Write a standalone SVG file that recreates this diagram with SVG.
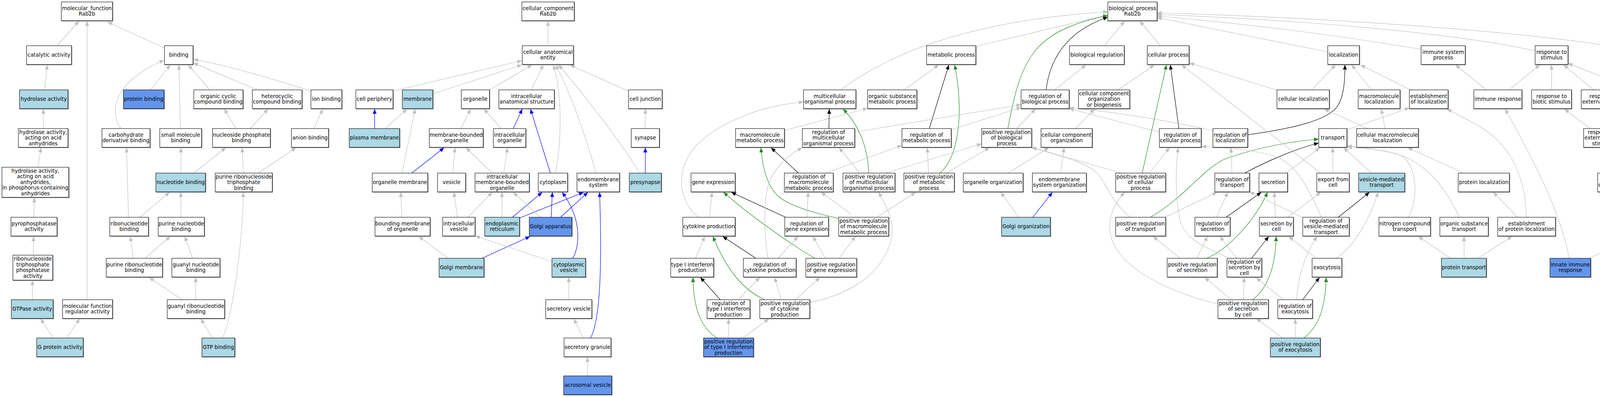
<svg xmlns="http://www.w3.org/2000/svg" width="4331" height="1016" viewBox="0 0 4331 1016">
<style>
text{font-family:"DejaVu Sans","Liberation Sans",sans-serif;font-size:13.3px;text-anchor:middle;fill:#000}
rect.w,rect.l,rect.c{stroke:#000;stroke-width:1.1;filter:drop-shadow(1.2px 1.2px 0 #666)}
rect.w{fill:#fff}
rect.l{fill:#add8e6}
rect.c{fill:#6495ed}
path{fill:none;stroke-width:1.2}
.g{stroke:#c0c0c0;marker-end:url(#ag)}
.u{stroke:#0000ff;marker-end:url(#au)}
.k{stroke:#000;marker-end:url(#ak)}
.r{stroke:#228b22;marker-end:url(#ar)}
</style>
<defs>
<marker id="ag" viewBox="0 0 12 10" refX="12" refY="5" markerWidth="12" markerHeight="10" markerUnits="userSpaceOnUse" orient="auto"><path d="M0,0L12,5L0,10z" style="fill:#c0c0c0;stroke:none"/></marker>
<marker id="au" viewBox="0 0 12 10" refX="12" refY="5" markerWidth="12" markerHeight="10" markerUnits="userSpaceOnUse" orient="auto"><path d="M0,0L12,5L0,10z" style="fill:#0000ff;stroke:none"/></marker>
<marker id="ak" viewBox="0 0 12 10" refX="12" refY="5" markerWidth="12" markerHeight="10" markerUnits="userSpaceOnUse" orient="auto"><path d="M0,0L12,5L0,10z" style="fill:#000;stroke:none"/></marker>
<marker id="ar" viewBox="0 0 12 10" refX="12" refY="5" markerWidth="12" markerHeight="10" markerUnits="userSpaceOnUse" orient="auto"><path d="M0,0L12,5L0,10z" style="fill:#228b22;stroke:none"/></marker>
</defs>
<rect x="0" y="0" width="4331" height="1016" fill="#fff"/>
<g id="edges">
<path class="g" d="M146,117L202,54"/>
<path class="g" d="M223,767L223,54"/>
<path class="g" d="M421,123L275,56"/>
<path class="g" d="M114,230L121,166"/>
<path class="g" d="M111,329L111,279"/>
<path class="g" d="M97,428L105,378"/>
<path class="g" d="M87,556L88,506"/>
<path class="g" d="M85,653L86,605"/>
<path class="g" d="M83,767L83,718"/>
<path class="g" d="M136,865L104,816"/>
<path class="g" d="M171,865L204,816"/>
<path class="g" d="M386,230L436,166"/>
<path class="g" d="M310,329C285,300 275,215 420,154"/>
<path class="g" d="M462,329L458,166"/>
<path class="g" d="M537,230L482,166"/>
<path class="g" d="M658,230L495,161"/>
<path class="g" d="M796,233Q600,170 495,152"/>
<path class="g" d="M463,443L463,378"/>
<path class="g" d="M496,443L578,378"/>
<path class="g" d="M604,329L574,279"/>
<path class="g" d="M641,329L686,279"/>
<path class="g" d="M804,329L826,279"/>
<path class="g" d="M623,443L620,378"/>
<path class="g" d="M661,443L758,378"/>
<path class="g" d="M329,556L324,378"/>
<path class="g" d="M358,556L434,492"/>
<path class="g" d="M463,556L463,492"/>
<path class="g" d="M341,661L334,605"/>
<path class="g" d="M371,661L436,605"/>
<path class="g" d="M493,661L473,605"/>
<path class="g" d="M466,767L382,710"/>
<path class="g" d="M501,767L501,710"/>
<path class="g" d="M544,865L514,816"/>
<path class="g" d="M569,865C590,830 620,650 623,492"/>
<path class="g" d="M1403,117L1403,54"/>
<path class="g" d="M1006,233L1336,155"/>
<path class="g" d="M1108,240L1336,166"/>
<path class="g" d="M1253,230L1362,166"/>
<path class="g" d="M1360,230L1391,166"/>
<path class="g" d="M1421,443C1436,390 1442,240 1416,166"/>
<path class="g" d="M1526,443Q1480,280 1423,166"/>
<path class="g" d="M1637,441Q1560,320 1430,166"/>
<path class="g" d="M1608,233L1459,166"/>
<path class="u" d="M959,329L959,279"/>
<path class="g" d="M986,329L1042,279"/>
<path class="g" d="M1029,443L1063,279"/>
<path class="u" d="M1054,443L1137,378"/>
<path class="g" d="M1029,556L1026,492"/>
<path class="g" d="M1147,661L1072,605"/>
<path class="u" d="M1234,661L1357,605"/>
<path class="g" d="M1180,329L1205,279"/>
<path class="g" d="M1283,329L1239,279"/>
<path class="u" d="M1314,329L1337,279"/>
<path class="u" d="M1409,443L1358,279"/>
<path class="g" d="M1159,443L1165,378"/>
<path class="g" d="M1260,443L1193,378"/>
<path class="g" d="M1290,443L1299,378"/>
<path class="g" d="M1171,556L1162,492"/>
<path class="g" d="M1198,556L1260,492"/>
<path class="g" d="M1285,556L1285,492"/>
<path class="u" d="M1312,556L1388,492"/>
<path class="u" d="M1330,558L1494,492"/>
<path class="g" d="M1383,556L1314,492"/>
<path class="u" d="M1411,556L1414,492"/>
<path class="u" d="M1435,556L1505,492"/>
<path class="g" d="M1412,669L1217,604"/>
<path class="u" d="M1466,661C1485,630 1490,560 1439,492"/>
<path class="g" d="M1456,767L1456,710"/>
<path class="g" d="M1493,865L1469,816"/>
<path class="u" d="M1512,865C1535,820 1542,700 1535,492"/>
<path class="g" d="M1504,962L1504,914"/>
<path class="u" d="M1652,443L1652,378"/>
<path class="g" d="M1652,329L1652,279"/>
<path class="g" d="M2152,230C2260,150 2450,55 2836,30"/>
<path class="g" d="M2497,119Q2700,70 2836,38"/>
<path class="r" d="M2580,329C2595,250 2610,180 2650,130S2760,55 2836,40"/>
<path class="k" d="M2678,230C2688,150 2730,80 2836,44"/>
<path class="g" d="M2827,117L2879,54"/>
<path class="g" d="M2971,117L2918,54"/>
<path class="g" d="M3399,133L2962,45"/>
<path class="g" d="M3638,126Q3300,70 2962,41"/>
<path class="g" d="M3930,130C3700,80 3300,50 2962,37"/>
<path class="g" d="M4154,123C3900,80 3400,45 2962,33"/>
<path class="g" d="M2315,230L2403,166"/>
<path class="k" d="M2379,329L2429,166"/>
<path class="r" d="M2405,443C2450,410 2470,300 2444,166"/>
<path class="g" d="M2377,443L2374,378"/>
<path class="g" d="M2422,443L2533,378"/>
<path class="g" d="M2435,332L2614,275"/>
<path class="g" d="M2188,338L2614,268"/>
<path class="g" d="M2602,329L2651,279"/>
<path class="g" d="M2700,230L2780,166"/>
<path class="g" d="M2008,334L2221,277"/>
<path class="g" d="M1788,556C1730,510 1730,420 1790,365S1950,270 2057,261"/>
<path class="k" d="M2122,329L2123,279"/>
<path class="r" d="M2224,443C2222,380 2200,320 2158,279"/>
<path class="g" d="M2201,443L2148,378"/>
<path class="g" d="M2267,443L2513,368"/>
<path class="k" d="M2044,443L1974,378"/>
<path class="g" d="M2113,443L2309,372"/>
<path class="r" d="M2147,559C2060,540 2010,520 1990,500C1965,475 1952,430 1948,378"/>
<path class="g" d="M2179,548L2102,492"/>
<path class="g" d="M2248,554L2344,492"/>
<path class="k" d="M2011,556L1872,492"/>
<path class="g" d="M2066,556L2069,492"/>
<path class="r" d="M2086,661C2040,635 1930,560 1852,492"/>
<path class="g" d="M2113,661L2081,605"/>
<path class="g" d="M2148,661L2190,605"/>
<path class="g" d="M1816,556L1823,492"/>
<path class="g" d="M1781,661L1804,605"/>
<path class="k" d="M1935,661L1850,605"/>
<path class="g" d="M1966,661C1956,600 1955,520 1965,480C1975,440 2010,400 2054,378"/>
<path class="g" d="M1992,661L2043,605"/>
<path class="k" d="M1844,767L1793,710"/>
<path class="g" d="M1890,767L1945,710"/>
<path class="r" d="M1957,767C1900,740 1860,690 1825,605"/>
<path class="g" d="M2000,767L1983,710"/>
<path class="g" d="M2036,767L2099,710"/>
<path class="g" d="M2073,774C2150,760 2230,720 2265,655C2295,600 2290,560 2249,492"/>
<path class="r" d="M1836,865C1795,840 1775,790 1774,710"/>
<path class="g" d="M1865,865L1865,816"/>
<path class="g" d="M1902,865L1968,816"/>
<path class="g" d="M2581,443L2685,378"/>
<path class="g" d="M2754,329L2802,279"/>
<path class="g" d="M2715,443L2724,378"/>
<path class="g" d="M2608,556L2562,492"/>
<path class="u" d="M2644,556L2694,492"/>
<path class="g" d="M2862,230L2955,166"/>
<path class="k" d="M3018,329L2996,166"/>
<path class="g" d="M2967,338L2737,278"/>
<path class="g" d="M3105,334Q2900,290 2737,276"/>
<path class="k" d="M3194,345C3300,330 3400,310 3425,270C3440,245 3443,210 3443,166"/>
<path class="r" d="M2924,443L2986,166"/>
<path class="g" d="M2942,443L2994,378"/>
<path class="g" d="M2871,443L2641,377"/>
<path class="g" d="M2893,556C2850,520 2835,480 2815,450C2795,420 2720,400 2641,378"/>
<path class="g" d="M2982,556L3116,492"/>
<path class="r" d="M2945,556C3040,500 3080,430 3140,405C3220,378 3300,362 3376,356"/>
<path class="g" d="M3154,443L3151,378"/>
<path class="k" d="M3186,443C3220,425 3300,385 3376,366"/>
<path class="g" d="M3114,556L3143,492"/>
<path class="k" d="M3139,556L3229,492"/>
<path class="r" d="M3089,661C3140,640 3210,570 3245,492"/>
<path class="g" d="M3064,661L3091,605"/>
<path class="g" d="M3021,661L2952,605"/>
<path class="g" d="M3166,661L3123,605"/>
<path class="k" d="M3204,661L3248,605"/>
<path class="g" d="M3141,658C3080,630 3030,610 3020,560C3008,500 3010,430 3016,378"/>
<path class="g" d="M3152,767L3084,710"/>
<path class="g" d="M3183,767L3185,710"/>
<path class="r" d="M3207,767C3235,745 3265,700 3267,605"/>
<path class="g" d="M3118,778C3000,750 2900,700 2860,640C2830,595 2835,540 2879,492"/>
<path class="g" d="M3283,865L3216,815"/>
<path class="g" d="M3286,767L3216,711"/>
<path class="g" d="M3292,443L3379,378"/>
<path class="g" d="M3269,231L3045,161"/>
<path class="g" d="M3381,443L3025,166"/>
<path class="g" d="M3383,556C3350,480 3320,425 3270,402C3220,385 3150,378 3076,375"/>
<path class="g" d="M3333,556L3199,491"/>
<path class="g" d="M3265,556L3262,492"/>
<path class="g" d="M3297,556L3381,492"/>
<path class="g" d="M3369,661L3299,605"/>
<path class="g" d="M3420,661C3455,640 3500,580 3528,492"/>
<path class="k" d="M3426,556L3506,492"/>
<path class="k" d="M3335,767L3378,710"/>
<path class="g" d="M3319,767C3322,715 3340,650 3372,605"/>
<path class="g" d="M3316,865L3316,816"/>
<path class="r" d="M3338,865C3370,840 3393,800 3395,710"/>
<path class="g" d="M3449,332L3608,276"/>
<path class="g" d="M3511,443L3440,378"/>
<path class="g" d="M3412,443L3412,378"/>
<path class="g" d="M3606,556C3630,510 3630,430 3590,400C3560,385 3500,380 3449,376"/>
<path class="g" d="M3736,556C3700,480 3650,410 3560,390C3520,382 3490,378 3449,373"/>
<path class="g" d="M3546,329L3536,279"/>
<path class="g" d="M3501,329L3390,279"/>
<path class="g" d="M3511,230L3460,166"/>
<path class="g" d="M3358,230L3419,166"/>
<path class="g" d="M3611,230L3483,166"/>
<path class="g" d="M3747,443L3604,378"/>
<path class="g" d="M3713,661L3631,605"/>
<path class="g" d="M3748,661L3748,605"/>
<path class="g" d="M3783,661L3871,605"/>
<path class="g" d="M3885,556L3823,492"/>
<path class="g" d="M3908,556C3905,470 3880,380 3790,325C3760,308 3730,292 3704,279"/>
<path class="g" d="M3805,230L3726,166"/>
<path class="g" d="M3863,230L3942,166"/>
<path class="g" d="M3972,230L3972,166"/>
<path class="g" d="M4079,230L4003,166"/>
<path class="g" d="M4194,233L4014,162"/>
<path class="g" d="M4071,329L4005,279"/>
<path class="g" d="M4105,329L4107,279"/>
<path class="g" d="M4238,329L4237,279"/>
<path class="g" d="M4135,443L4114,378"/>
<path class="g" d="M4195,454C4290,430 4328,380 4325,310C4322,250 4290,205 4260,182"/>
<path class="g" d="M4217,556L4164,492"/>
<path class="g" d="M4238,556L4238,378"/>
<path class="g" d="M4017,661C4000,570 3960,470 3853,279"/>
<path class="g" d="M4069,661L4187,605"/>
<path class="g" d="M4139,661L4142,492"/>
<path class="g" d="M4258,661L4246,605"/>
<path class="g" d="M4187,767L4157,710"/>
<path class="g" d="M4216,767L4250,710"/>
</g>
<g id="n1"><rect class="w" x="157" y="5" width="131" height="48"/><text x="222.5" y="25.75"><tspan x="222.5">molecular_function</tspan><tspan x="222.5" dy="14.5">Rab2b</tspan></text></g>
<g id="n2"><rect class="w" x="68" y="117" width="115" height="48"/><text x="125.5" y="145">catalytic activity</text></g>
<g id="n3"><rect class="w" x="421" y="117" width="73" height="48"/><text x="457.5" y="145">binding</text></g>
<g id="n4"><rect class="l" x="50" y="230" width="124" height="48"/><text x="112" y="258">hydrolase activity</text></g>
<g id="n5"><rect class="c" x="316" y="230" width="104" height="48"/><text x="368" y="258">protein binding</text></g>
<g id="n6"><rect class="w" x="496" y="230" width="126" height="48"/><text x="559" y="250.75"><tspan x="559">organic cyclic</tspan><tspan x="559" dy="14.5">compound binding</tspan></text></g>
<g id="n7"><rect class="w" x="646" y="230" width="127" height="48"/><text x="709.5" y="250.75"><tspan x="709.5">heterocyclic</tspan><tspan x="709.5" dy="14.5">compound binding</tspan></text></g>
<g id="n8"><rect class="w" x="796" y="230" width="79" height="48"/><text x="835.5" y="258">ion binding</text></g>
<g id="n9"><rect class="w" x="47" y="329" width="127" height="48"/><text x="110.5" y="342.5"><tspan x="110.5">hydrolase activity,</tspan><tspan x="110.5" dy="14.5">acting on acid</tspan><tspan x="110.5" dy="14.5">anhydrides</tspan></text></g>
<g id="n10"><rect class="w" x="261" y="329" width="123" height="48"/><text x="322.5" y="349.75"><tspan x="322.5">carbohydrate</tspan><tspan x="322.5" dy="14.5">derivative binding</tspan></text></g>
<g id="n11"><rect class="w" x="409" y="329" width="107" height="48"/><text x="462.5" y="349.75"><tspan x="462.5">small molecule</tspan><tspan x="462.5" dy="14.5">binding</tspan></text></g>
<g id="n12"><rect class="w" x="544" y="329" width="148" height="48"/><text x="618" y="349.75"><tspan x="618">nucleoside phosphate</tspan><tspan x="618" dy="14.5">binding</tspan></text></g>
<g id="n13"><rect class="w" x="746" y="329" width="95" height="48"/><text x="793.5" y="357">anion binding</text></g>
<g id="n14"><rect class="w" x="5" y="428" width="171" height="77"/><text x="90.5" y="441.5"><tspan x="90.5">hydrolase activity,</tspan><tspan x="90.5" dy="14.5">acting on acid</tspan><tspan x="90.5" dy="14.5">anhydrides,</tspan><tspan x="90.5" dy="14.5">in phosphorus-containing</tspan><tspan x="90.5" dy="14.5">anhydrides</tspan></text></g>
<g id="n15"><rect class="l" x="399" y="443" width="127" height="48"/><text x="462.5" y="471">nucleotide binding</text></g>
<g id="n16"><rect class="w" x="551" y="443" width="146" height="48"/><text x="624" y="456.5"><tspan x="624">purine ribonucleoside</tspan><tspan x="624" dy="14.5">triphosphate</tspan><tspan x="624" dy="14.5">binding</tspan></text></g>
<g id="n17"><rect class="w" x="28" y="556" width="118" height="48"/><text x="87" y="576.75"><tspan x="87">pyrophosphatase</tspan><tspan x="87" dy="14.5">activity</tspan></text></g>
<g id="n18"><rect class="w" x="281" y="556" width="99" height="48"/><text x="330.5" y="576.75"><tspan x="330.5">ribonucleotide</tspan><tspan x="330.5" dy="14.5">binding</tspan></text></g>
<g id="n19"><rect class="w" x="405" y="556" width="118" height="48"/><text x="464" y="576.75"><tspan x="464">purine nucleotide</tspan><tspan x="464" dy="14.5">binding</tspan></text></g>
<g id="n20"><rect class="w" x="33" y="653" width="102" height="64"/><text x="84" y="667.25"><tspan x="84">ribonucleoside</tspan><tspan x="84" dy="14.5">triphosphate</tspan><tspan x="84" dy="14.5">phosphatase</tspan><tspan x="84" dy="14.5">activity</tspan></text></g>
<g id="n21"><rect class="w" x="272" y="661" width="144" height="48"/><text x="344" y="681.75"><tspan x="344">purine ribonucleotide</tspan><tspan x="344" dy="14.5">binding</tspan></text></g>
<g id="n22"><rect class="w" x="440" y="661" width="123" height="48"/><text x="501.5" y="681.75"><tspan x="501.5">guanyl nucleotide</tspan><tspan x="501.5" dy="14.5">binding</tspan></text></g>
<g id="n23"><rect class="l" x="29" y="767" width="107" height="48"/><text x="82.5" y="795">GTPase activity</text></g>
<g id="n24"><rect class="w" x="160" y="767" width="128" height="48"/><text x="224" y="787.75"><tspan x="224">molecular function</tspan><tspan x="224" dy="14.5">regulator activity</tspan></text></g>
<g id="n25"><rect class="w" x="428" y="767" width="147" height="48"/><text x="501.5" y="787.75"><tspan x="501.5">guanyl ribonucleotide</tspan><tspan x="501.5" dy="14.5">binding</tspan></text></g>
<g id="n26"><rect class="l" x="94" y="865" width="119" height="48"/><text x="153.5" y="893">G protein activity</text></g>
<g id="n27"><rect class="l" x="517" y="865" width="84" height="48"/><text x="559" y="893">GTP binding</text></g>
<g id="c1"><rect class="w" x="1336" y="5" width="134" height="48"/><text x="1403" y="25.75"><tspan x="1403">cellular_component</tspan><tspan x="1403" dy="14.5">Rab2b</tspan></text></g>
<g id="c2"><rect class="w" x="1337" y="117" width="131" height="48"/><text x="1402.5" y="137.75"><tspan x="1402.5">cellular anatomical</tspan><tspan x="1402.5" dy="14.5">entity</tspan></text></g>
<g id="c3"><rect class="w" x="911" y="230" width="95" height="48"/><text x="958.5" y="258">cell periphery</text></g>
<g id="c4"><rect class="l" x="1030" y="230" width="78" height="48"/><text x="1069" y="258">membrane</text></g>
<g id="c5"><rect class="w" x="1181" y="230" width="72" height="48"/><text x="1217" y="258">organelle</text></g>
<g id="c6"><rect class="w" x="1277" y="230" width="142" height="48"/><text x="1348" y="250.75"><tspan x="1348">intracellular</tspan><tspan x="1348" dy="14.5">anatomical structure</tspan></text></g>
<g id="c7"><rect class="w" x="1609" y="230" width="86" height="48"/><text x="1652" y="258">cell junction</text></g>
<g id="c8"><rect class="l" x="894" y="329" width="129" height="48"/><text x="958.5" y="357">plasma membrane</text></g>
<g id="c9"><rect class="w" x="1099" y="329" width="138" height="48"/><text x="1168" y="349.75"><tspan x="1168">membrane-bounded</tspan><tspan x="1168" dy="14.5">organelle</tspan></text></g>
<g id="c10"><rect class="w" x="1263" y="329" width="83" height="48"/><text x="1304.5" y="349.75"><tspan x="1304.5">intracellular</tspan><tspan x="1304.5" dy="14.5">organelle</tspan></text></g>
<g id="c11"><rect class="w" x="1616" y="329" width="72" height="48"/><text x="1652" y="357">synapse</text></g>
<g id="c12"><rect class="w" x="953" y="443" width="142" height="48"/><text x="1024" y="471">organelle membrane</text></g>
<g id="c13"><rect class="w" x="1120" y="443" width="72" height="48"/><text x="1156" y="471">vesicle</text></g>
<g id="c14"><rect class="w" x="1216" y="443" width="139" height="48"/><text x="1285.5" y="456.5"><tspan x="1285.5">intracellular</tspan><tspan x="1285.5" dy="14.5">membrane-bounded</tspan><tspan x="1285.5" dy="14.5">organelle</tspan></text></g>
<g id="c15"><rect class="w" x="1378" y="443" width="75" height="48"/><text x="1415.5" y="471">cytoplasm</text></g>
<g id="c16"><rect class="w" x="1477" y="443" width="109" height="48"/><text x="1531.5" y="463.75"><tspan x="1531.5">endomembrane</tspan><tspan x="1531.5" dy="14.5">system</tspan></text></g>
<g id="c17"><rect class="l" x="1611" y="443" width="82" height="48"/><text x="1652" y="471">presynapse</text></g>
<g id="c18"><rect class="w" x="960" y="556" width="141" height="48"/><text x="1030.5" y="576.75"><tspan x="1030.5">bounding membrane</tspan><tspan x="1030.5" dy="14.5">of organelle</tspan></text></g>
<g id="c19"><rect class="w" x="1133" y="556" width="83" height="48"/><text x="1174.5" y="576.75"><tspan x="1174.5">intracellular</tspan><tspan x="1174.5" dy="14.5">vesicle</tspan></text></g>
<g id="c20"><rect class="l" x="1241" y="556" width="89" height="48"/><text x="1285.5" y="576.75"><tspan x="1285.5">endoplasmic</tspan><tspan x="1285.5" dy="14.5">reticulum</tspan></text></g>
<g id="c21"><rect class="c" x="1355" y="556" width="109" height="48"/><text x="1409.5" y="584">Golgi apparatus</text></g>
<g id="c22"><rect class="l" x="1124" y="661" width="115" height="48"/><text x="1181.5" y="689">Golgi membrane</text></g>
<g id="c23"><rect class="l" x="1413" y="661" width="86" height="48"/><text x="1456" y="681.75"><tspan x="1456">cytoplasmic</tspan><tspan x="1456" dy="14.5">vesicle</tspan></text></g>
<g id="c24"><rect class="w" x="1397" y="767" width="118" height="48"/><text x="1456" y="795">secretory vesicle</text></g>
<g id="c25"><rect class="w" x="1444" y="865" width="120" height="48"/><text x="1504" y="893">secretory granule</text></g>
<g id="c26"><rect class="c" x="1443" y="962" width="123" height="48"/><text x="1504.5" y="990">acrosomal vesicle</text></g>
<g id="b1"><rect class="w" x="2836" y="5" width="126" height="48"/><text x="2899" y="25.75"><tspan x="2899">biological_process</tspan><tspan x="2899" dy="14.5">Rab2b</tspan></text></g>
<g id="b2"><rect class="w" x="2372" y="117" width="126" height="48"/><text x="2435" y="145">metabolic process</text></g>
<g id="b3"><rect class="w" x="2738" y="117" width="140" height="48"/><text x="2808" y="145">biological regulation</text></g>
<g id="b4"><rect class="w" x="2937" y="117" width="107" height="48"/><text x="2990.5" y="145">cellular process</text></g>
<g id="b5"><rect class="w" x="3399" y="117" width="81" height="48"/><text x="3439.5" y="145">localization</text></g>
<g id="b6"><rect class="w" x="3638" y="117" width="113" height="48"/><text x="3694.5" y="137.75"><tspan x="3694.5">immune system</tspan><tspan x="3694.5" dy="14.5">process</tspan></text></g>
<g id="b7"><rect class="w" x="3930" y="117" width="84" height="48"/><text x="3972" y="137.75"><tspan x="3972">response to</tspan><tspan x="3972" dy="14.5">stimulus</tspan></text></g>
<g id="b8"><rect class="w" x="4154" y="102" width="135" height="79"/><text x="4221.5" y="116.5"><tspan x="4221.5">biological process</tspan><tspan x="4221.5" dy="14.5">involved in</tspan><tspan x="4221.5" dy="14.5">interspecies</tspan><tspan x="4221.5" dy="14.5">interaction</tspan><tspan x="4221.5" dy="14.5">between organisms</tspan></text></g>
<g id="b9"><rect class="w" x="2057" y="230" width="134" height="48"/><text x="2124" y="250.75"><tspan x="2124">multicellular</tspan><tspan x="2124" dy="14.5">organismal process</tspan></text></g>
<g id="b10"><rect class="w" x="2221" y="230" width="126" height="48"/><text x="2284" y="250.75"><tspan x="2284">organic substance</tspan><tspan x="2284" dy="14.5">metabolic process</tspan></text></g>
<g id="b11"><rect class="w" x="2614" y="230" width="123" height="48"/><text x="2675.5" y="250.75"><tspan x="2675.5">regulation of</tspan><tspan x="2675.5" dy="14.5">biological process</tspan></text></g>
<g id="b12"><rect class="w" x="2761" y="230" width="131" height="48"/><text x="2826.5" y="243.5"><tspan x="2826.5">cellular component</tspan><tspan x="2826.5" dy="14.5">organization</tspan><tspan x="2826.5" dy="14.5">or biogenesis</tspan></text></g>
<g id="b13"><rect class="w" x="3269" y="230" width="134" height="48"/><text x="3336" y="258">cellular localization</text></g>
<g id="b14"><rect class="w" x="3477" y="230" width="107" height="48"/><text x="3530.5" y="250.75"><tspan x="3530.5">macromolecule</tspan><tspan x="3530.5" dy="14.5">localization</tspan></text></g>
<g id="b15"><rect class="w" x="3608" y="230" width="99" height="48"/><text x="3657.5" y="250.75"><tspan x="3657.5">establishment</tspan><tspan x="3657.5" dy="14.5">of localization</tspan></text></g>
<g id="b16"><rect class="w" x="3773" y="230" width="123" height="48"/><text x="3834.5" y="258">immune response</text></g>
<g id="b17"><rect class="w" x="3921" y="230" width="102" height="48"/><text x="3972" y="250.75"><tspan x="3972">response to</tspan><tspan x="3972" dy="14.5">biotic stimulus</tspan></text></g>
<g id="b18"><rect class="w" x="4048" y="230" width="120" height="48"/><text x="4108" y="250.75"><tspan x="4108">response to</tspan><tspan x="4108" dy="14.5">external stimulus</tspan></text></g>
<g id="b19"><rect class="w" x="4194" y="230" width="83" height="48"/><text x="4235.5" y="250.75"><tspan x="4235.5">response to</tspan><tspan x="4235.5" dy="14.5">stress</tspan></text></g>
<g id="b20"><rect class="w" x="1883" y="329" width="125" height="48"/><text x="1945.5" y="349.75"><tspan x="1945.5">macromolecule</tspan><tspan x="1945.5" dy="14.5">metabolic process</tspan></text></g>
<g id="b21"><rect class="w" x="2054" y="329" width="134" height="48"/><text x="2121" y="342.5"><tspan x="2121">regulation of</tspan><tspan x="2121" dy="14.5">multicellular</tspan><tspan x="2121" dy="14.5">organismal process</tspan></text></g>
<g id="b22"><rect class="w" x="2309" y="329" width="126" height="48"/><text x="2372" y="349.75"><tspan x="2372">regulation of</tspan><tspan x="2372" dy="14.5">metabolic process</tspan></text></g>
<g id="b23"><rect class="w" x="2513" y="329" width="128" height="48"/><text x="2577" y="342.5"><tspan x="2577">positive regulation</tspan><tspan x="2577" dy="14.5">of biological</tspan><tspan x="2577" dy="14.5">process</tspan></text></g>
<g id="b24"><rect class="w" x="2665" y="329" width="131" height="48"/><text x="2730.5" y="349.75"><tspan x="2730.5">cellular component</tspan><tspan x="2730.5" dy="14.5">organization</tspan></text></g>
<g id="b25"><rect class="w" x="2968" y="329" width="107" height="48"/><text x="3021.5" y="349.75"><tspan x="3021.5">regulation of</tspan><tspan x="3021.5" dy="14.5">cellular process</tspan></text></g>
<g id="b26"><rect class="w" x="3105" y="329" width="89" height="48"/><text x="3149.5" y="349.75"><tspan x="3149.5">regulation of</tspan><tspan x="3149.5" dy="14.5">localization</tspan></text></g>
<g id="b27"><rect class="w" x="3376" y="329" width="72" height="48"/><text x="3412" y="357">transport</text></g>
<g id="b28"><rect class="w" x="3473" y="329" width="158" height="48"/><text x="3552" y="349.75"><tspan x="3552">cellular macromolecule</tspan><tspan x="3552" dy="14.5">localization</tspan></text></g>
<g id="b29"><rect class="w" x="4054" y="329" width="100" height="48"/><text x="4104" y="342.5"><tspan x="4104">response to</tspan><tspan x="4104" dy="14.5">external biotic</tspan><tspan x="4104" dy="14.5">stimulus</tspan></text></g>
<g id="b30"><rect class="w" x="4178" y="329" width="121" height="48"/><text x="4238.5" y="357">defense response</text></g>
<g id="b31"><rect class="w" x="1769" y="443" width="113" height="48"/><text x="1825.5" y="471">gene expression</text></g>
<g id="b32"><rect class="w" x="2008" y="443" width="125" height="48"/><text x="2070.5" y="456.5"><tspan x="2070.5">regulation of</tspan><tspan x="2070.5" dy="14.5">macromolecule</tspan><tspan x="2070.5" dy="14.5">metabolic process</tspan></text></g>
<g id="b33"><rect class="w" x="2158" y="443" width="133" height="48"/><text x="2224.5" y="456.5"><tspan x="2224.5">positive regulation</tspan><tspan x="2224.5" dy="14.5">of multicellular</tspan><tspan x="2224.5" dy="14.5">organismal process</tspan></text></g>
<g id="b34"><rect class="w" x="2314" y="443" width="129" height="48"/><text x="2378.5" y="456.5"><tspan x="2378.5">positive regulation</tspan><tspan x="2378.5" dy="14.5">of metabolic</tspan><tspan x="2378.5" dy="14.5">process</tspan></text></g>
<g id="b35"><rect class="w" x="2466" y="443" width="153" height="48"/><text x="2542.5" y="471">organelle organization</text></g>
<g id="b36"><rect class="w" x="2643" y="443" width="138" height="48"/><text x="2712" y="463.75"><tspan x="2712">endomembrane</tspan><tspan x="2712" dy="14.5">system organization</tspan></text></g>
<g id="b37"><rect class="w" x="2856" y="443" width="128" height="48"/><text x="2920" y="456.5"><tspan x="2920">positive regulation</tspan><tspan x="2920" dy="14.5">of cellular</tspan><tspan x="2920" dy="14.5">process</tspan></text></g>
<g id="b38"><rect class="w" x="3110" y="443" width="89" height="48"/><text x="3154.5" y="463.75"><tspan x="3154.5">regulation of</tspan><tspan x="3154.5" dy="14.5">transport</tspan></text></g>
<g id="b39"><rect class="w" x="3223" y="443" width="73" height="48"/><text x="3259.5" y="471">secretion</text></g>
<g id="b40"><rect class="w" x="3371" y="443" width="83" height="48"/><text x="3412.5" y="463.75"><tspan x="3412.5">export from</tspan><tspan x="3412.5" dy="14.5">cell</tspan></text></g>
<g id="b41"><rect class="l" x="3478" y="443" width="118" height="48"/><text x="3537" y="463.75"><tspan x="3537">vesicle-mediated</tspan><tspan x="3537" dy="14.5">transport</tspan></text></g>
<g id="b42"><rect class="w" x="3733" y="443" width="131" height="48"/><text x="3798.5" y="471">protein localization</text></g>
<g id="b43"><rect class="w" x="4090" y="443" width="105" height="48"/><text x="4142.5" y="463.75"><tspan x="4142.5">response to</tspan><tspan x="4142.5" dy="14.5">other organism</tspan></text></g>
<g id="b44"><rect class="w" x="1748" y="556" width="134" height="48"/><text x="1815" y="584">cytokine production</text></g>
<g id="b45"><rect class="w" x="2009" y="556" width="112" height="48"/><text x="2065" y="576.75"><tspan x="2065">regulation of</tspan><tspan x="2065" dy="14.5">gene expression</tspan></text></g>
<g id="b46"><rect class="w" x="2147" y="556" width="128" height="48"/><text x="2211" y="569.5"><tspan x="2211">positive regulation</tspan><tspan x="2211" dy="14.5">of macromolecule</tspan><tspan x="2211" dy="14.5">metabolic process</tspan></text></g>
<g id="b47"><rect class="l" x="2564" y="556" width="125" height="48"/><text x="2626.5" y="584">Golgi organization</text></g>
<g id="b48"><rect class="w" x="2856" y="556" width="128" height="48"/><text x="2920" y="576.75"><tspan x="2920">positive regulation</tspan><tspan x="2920" dy="14.5">of transport</tspan></text></g>
<g id="b49"><rect class="w" x="3059" y="556" width="90" height="48"/><text x="3104" y="576.75"><tspan x="3104">regulation of</tspan><tspan x="3104" dy="14.5">secretion</tspan></text></g>
<g id="b50"><rect class="w" x="3224" y="556" width="87" height="48"/><text x="3267.5" y="576.75"><tspan x="3267.5">secretion by</tspan><tspan x="3267.5" dy="14.5">cell</tspan></text></g>
<g id="b51"><rect class="w" x="3335" y="556" width="119" height="48"/><text x="3394.5" y="569.5"><tspan x="3394.5">regulation of</tspan><tspan x="3394.5" dy="14.5">vesicle-mediated</tspan><tspan x="3394.5" dy="14.5">transport</tspan></text></g>
<g id="b52"><rect class="w" x="3530" y="556" width="132" height="48"/><text x="3596" y="576.75"><tspan x="3596">nitrogen compound</tspan><tspan x="3596" dy="14.5">transport</tspan></text></g>
<g id="b53"><rect class="w" x="3686" y="556" width="124" height="48"/><text x="3748" y="576.75"><tspan x="3748">organic substance</tspan><tspan x="3748" dy="14.5">transport</tspan></text></g>
<g id="b54"><rect class="w" x="3834" y="556" width="148" height="48"/><text x="3908" y="576.75"><tspan x="3908">establishment</tspan><tspan x="3908" dy="14.5">of protein localization</tspan></text></g>
<g id="b55"><rect class="w" x="4176" y="556" width="123" height="48"/><text x="4237.5" y="576.75"><tspan x="4237.5">defense response</tspan><tspan x="4237.5" dy="14.5">to other organism</tspan></text></g>
<g id="b56"><rect class="w" x="1717" y="661" width="110" height="48"/><text x="1772" y="681.75"><tspan x="1772">type I interferon</tspan><tspan x="1772" dy="14.5">production</tspan></text></g>
<g id="b57"><rect class="w" x="1903" y="661" width="135" height="48"/><text x="1970.5" y="681.75"><tspan x="1970.5">regulation of</tspan><tspan x="1970.5" dy="14.5">cytokine production</tspan></text></g>
<g id="b58"><rect class="w" x="2063" y="661" width="130" height="48"/><text x="2128" y="681.75"><tspan x="2128">positive regulation</tspan><tspan x="2128" dy="14.5">of gene expression</tspan></text></g>
<g id="b59"><rect class="w" x="2988" y="661" width="128" height="48"/><text x="3052" y="681.75"><tspan x="3052">positive regulation</tspan><tspan x="3052" dy="14.5">of secretion</tspan></text></g>
<g id="b60"><rect class="w" x="3141" y="661" width="89" height="48"/><text x="3185.5" y="674.5"><tspan x="3185.5">regulation of</tspan><tspan x="3185.5" dy="14.5">secretion by</tspan><tspan x="3185.5" dy="14.5">cell</tspan></text></g>
<g id="b61"><rect class="w" x="3359" y="661" width="76" height="48"/><text x="3397" y="689">exocytosis</text></g>
<g id="b62"><rect class="l" x="3690" y="661" width="115" height="48"/><text x="3747.5" y="689">protein transport</text></g>
<g id="b63"><rect class="c" x="3968" y="661" width="104" height="48"/><text x="4020" y="681.75"><tspan x="4020">innate immune</tspan><tspan x="4020" dy="14.5">response</tspan></text></g>
<g id="b64"><rect class="w" x="4097" y="661" width="83" height="48"/><text x="4138.5" y="681.75"><tspan x="4138.5">response to</tspan><tspan x="4138.5" dy="14.5">virus</tspan></text></g>
<g id="b65"><rect class="w" x="4205" y="661" width="121" height="48"/><text x="4265.5" y="681.75"><tspan x="4265.5">defense response</tspan><tspan x="4265.5" dy="14.5">to symbiont</tspan></text></g>
<g id="b66"><rect class="w" x="1810" y="767" width="110" height="48"/><text x="1865" y="780.5"><tspan x="1865">regulation of</tspan><tspan x="1865" dy="14.5">type I interferon</tspan><tspan x="1865" dy="14.5">production</tspan></text></g>
<g id="b67"><rect class="w" x="1945" y="767" width="128" height="48"/><text x="2009" y="780.5"><tspan x="2009">positive regulation</tspan><tspan x="2009" dy="14.5">of cytokine</tspan><tspan x="2009" dy="14.5">production</tspan></text></g>
<g id="b68"><rect class="w" x="3118" y="767" width="129" height="48"/><text x="3182.5" y="780.5"><tspan x="3182.5">positive regulation</tspan><tspan x="3182.5" dy="14.5">of secretion</tspan><tspan x="3182.5" dy="14.5">by cell</tspan></text></g>
<g id="b69"><rect class="w" x="3271" y="767" width="89" height="48"/><text x="3315.5" y="787.75"><tspan x="3315.5">regulation of</tspan><tspan x="3315.5" dy="14.5">exocytosis</tspan></text></g>
<g id="b70"><rect class="c" x="4141" y="767" width="121" height="48"/><text x="4201.5" y="787.75"><tspan x="4201.5">defense response</tspan><tspan x="4201.5" dy="14.5">to virus</tspan></text></g>
<g id="b71"><rect class="c" x="1801" y="865" width="128" height="48"/><text x="1865" y="878.5"><tspan x="1865">positive regulation</tspan><tspan x="1865" dy="14.5">of type I interferon</tspan><tspan x="1865" dy="14.5">production</tspan></text></g>
<g id="b72"><rect class="l" x="3252" y="865" width="128" height="48"/><text x="3316" y="885.75"><tspan x="3316">positive regulation</tspan><tspan x="3316" dy="14.5">of exocytosis</tspan></text></g>
</svg>
